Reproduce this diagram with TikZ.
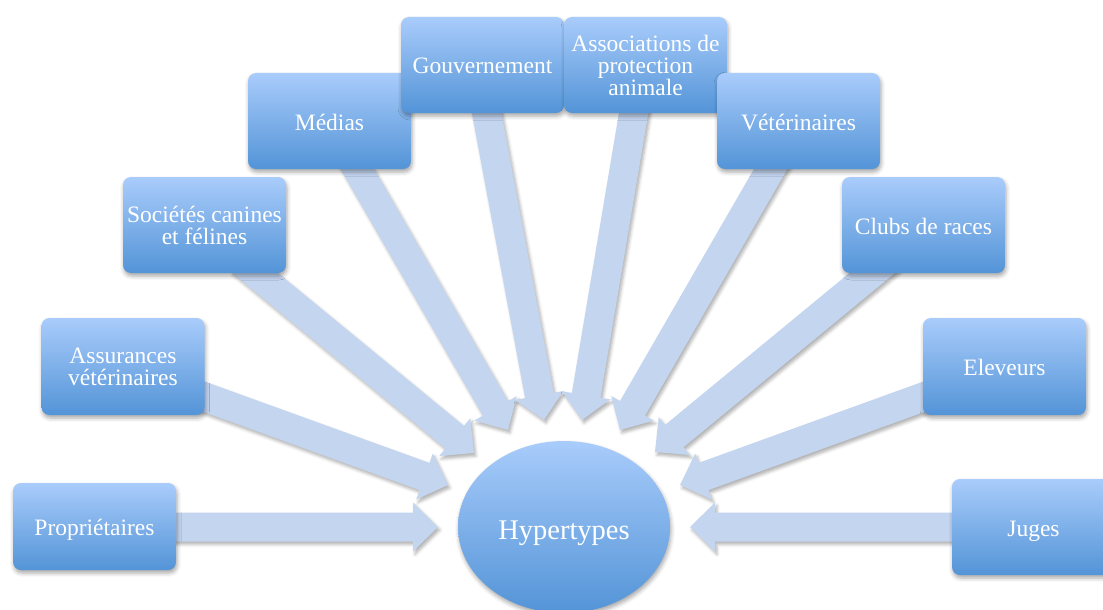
\documentclass[tikz,border=0pt]{standalone}
\usepackage{fontspec}
\setmainfont{Liberation Serif}
\usetikzlibrary{calc,shapes.geometric,shadows.blur}
\definecolor{boxtop}{HTML}{A9CCFB}
\definecolor{boxbot}{HTML}{5394D7}
\definecolor{arrcol}{HTML}{C4D5F0}
\newcommand\radarrow[3]{% #1 tail, #2 tip, #3 id
  \coordinate (b#3) at ($(#2)!25pt!(#1)$);
  \fill[arrowstyle] ($(#1)!14.5pt!90:(#2)$) -- ($(b#3)!14.5pt!90:(#2)$) -- ($(b#3)!24.5pt!90:(#2)$) -- (#2) -- ($(b#3)!24.5pt!-90:(#2)$) -- ($(b#3)!14.5pt!-90:(#2)$) -- ($(#1)!14.5pt!-90:(#2)$) -- cycle;
}
\tikzset{
  boxnode/.style={rectangle, rounded corners=8pt, minimum width=163pt, minimum height=96pt,
    inner sep=2pt, outer sep=0pt, top color=boxtop, bottom color=boxbot, text=white,
    align=center, font=\fontsize{23.5}{22}\selectfont,
    blur shadow={shadow xshift=1pt, shadow yshift=-3pt, shadow blur radius=4pt, shadow opacity=35}},
  onebox/.style={boxnode, text height=18pt, text depth=0pt},
  hubnode/.style={ellipse, minimum width=212pt, minimum height=172pt, inner sep=0pt, outer sep=0pt,
    top color=boxtop, bottom color=boxbot, text=white, font=\fontsize{28.5}{30}\selectfont,
    text height=25pt, text depth=0pt,
    blur shadow={shadow xshift=1pt, shadow yshift=-3pt, shadow blur radius=4pt, shadow opacity=35}},
  arrowstyle/.style={fill=arrcol,
    blur shadow={shadow xshift=2pt, shadow yshift=-3pt, shadow blur radius=3pt, shadow opacity=30}}
}
\begin{document}
\begin{tikzpicture}[x=1pt,y=-1pt]
\useasboundingbox (0,0) rectangle (1103,610);
% hub
\coordinate (c) at (564,527);
% tips
\coordinate (t1) at (438,527);
\coordinate (t2) at (448,485);
\coordinate (t3) at (474,453);
\coordinate (t4) at (508,430);
\coordinate (t5) at (544,420);
\coordinate (t6) at (582,420);
\coordinate (t7) at (620,430);
\coordinate (t8) at (655,452);
\coordinate (t9) at (680,485);
\coordinate (t10) at (690,527);
% tails (hidden under the boxes)
\coordinate (s1) at ($(c)!3.3!(t1)$);
\coordinate (s2) at ($(c)!3.5!(t2)$);
\coordinate (s3) at ($(c)!3.6!(t3)$);
\coordinate (s4) at ($(c)!3.8!(t4)$);
\coordinate (s5) at ($(c)!4.2!(t5)$);
\coordinate (s6) at ($(c)!4.2!(t6)$);
\coordinate (s7) at ($(c)!3.8!(t7)$);
\coordinate (s8) at ($(c)!3.6!(t8)$);
\coordinate (s9) at ($(c)!3.5!(t9)$);
\coordinate (s10) at ($(c)!3.3!(t10)$);
% arrows
\radarrow{s1}{t1}{1}
\radarrow{s2}{t2}{2}
\radarrow{s3}{t3}{3}
\radarrow{s4}{t4}{4}
\radarrow{s5}{t5}{5}
\radarrow{s6}{t6}{6}
\radarrow{s7}{t7}{7}
\radarrow{s8}{t8}{8}
\radarrow{s9}{t9}{9}
\radarrow{s10}{t10}{10}
% hub node
\node[hubnode] (hyp) at (c) {Hypertypes};
% boxes
\node[onebox, minimum height=87pt] (prop) at (94.5,526.5) {Propriétaires};
\node[boxnode, minimum height=97pt] (assur) at (123,366.5) {Assurances\\vétérinaires};
\node[boxnode] (soc) at (204.5,225) {Sociétés canines\\et félines};
\node[onebox] (med) at (329.5,121) {Médias};
\node[onebox] (gouv) at (482.5,65) {Gouvernement};
\node[boxnode] (assoc) at (645.5,65) {Associations de\\protection\\animale};
\node[onebox] (vet) at (798.5,121) {Vétérinaires};
\node[onebox] (clubs) at (923.5,225) {Clubs de races};
\node[onebox, minimum height=97pt] (elev) at (1004.5,366.5) {Eleveurs};
\node[onebox] (juges) at (1033.5,527) {Juges};
\end{tikzpicture}
\end{document}
